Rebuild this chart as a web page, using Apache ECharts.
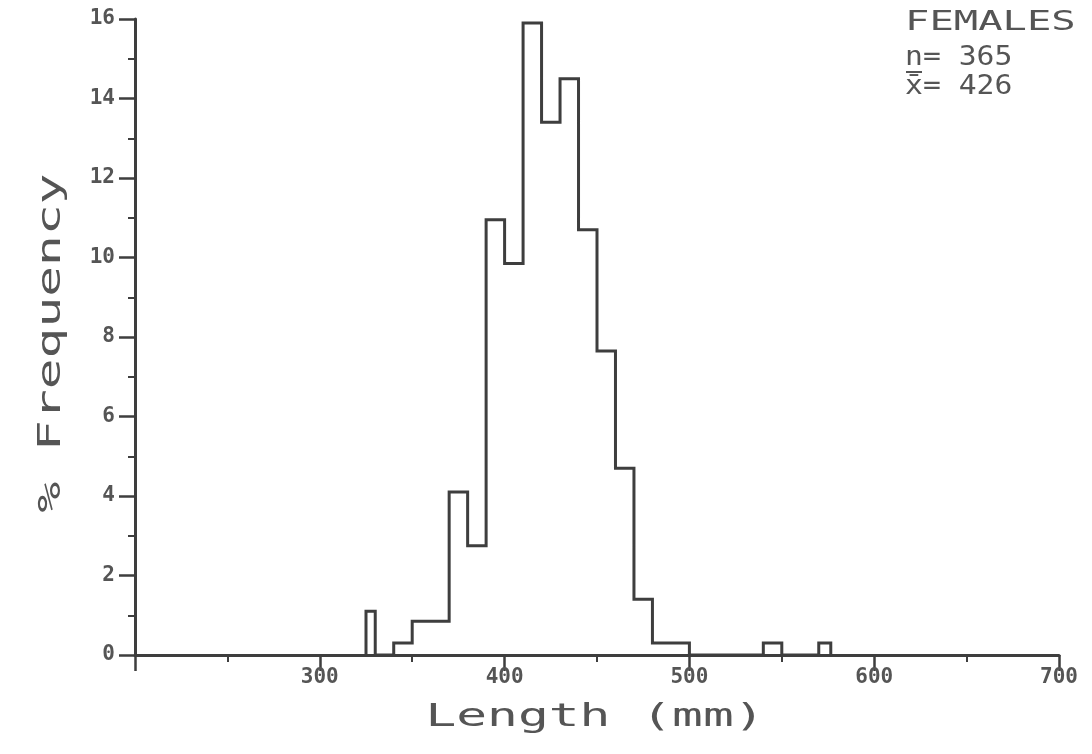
<!DOCTYPE html>
<html>
<head>
<meta charset="utf-8">
<script src="https://cdn.jsdelivr.net/npm/echarts@6/dist/echarts.min.js"></script>
<style>html,body{margin:0;padding:0;background:#fff}#c{width:1092px;height:754px}</style>
</head>
<body>
<div id="c"></div>
<script>
// Histogram bins (mm) and % frequency
const binLo  = [325, 340, 350, 360, 370, 380, 390, 400, 410, 420, 430, 440, 450, 460, 470, 480, 490, 540, 570];
const binHi  = [330, 350, 360, 370, 380, 390, 400, 410, 420, 430, 440, 450, 460, 470, 480, 490, 500, 550, 576.5];
const freq   = [1.1, 0.3, 0.85, 0.85, 4.1, 2.75, 10.95, 9.85, 15.9, 13.4, 14.5, 10.7, 7.65, 4.7, 1.4, 0.3, 0.3, 0.3, 0.3];
const xRange = [200, 700];
const yRange = [0, 16];
const xTitle = 'Length (mm)';
const yTitle = '% Frequency';
const infoLines = ['FEMALES', 'n= 365', 'x\u0304= 426'];

// Build the histogram outline from the bins
const outline = [];
let prevHi = null;
for (let i = 0; i < freq.length; i++) {
  const lo = binLo[i], hi = binHi[i], v = freq[i];
  if (prevHi === null) outline.push([lo, 0]);
  else if (lo !== prevHi) { outline.push([prevHi, 0]); outline.push([lo, 0]); }
  outline.push([lo, v]);
  outline.push([hi, v]);
  prevHi = hi;
}
outline.push([prevHi, 0]);

const INK = '#3e3e3e';
const TXT = '#555555';
const MONO = '"DejaVu Sans Mono", "Liberation Mono", monospace';

const chart = echarts.init(document.getElementById('c'), null, {renderer: 'canvas'});
chart.setOption({
  animation: false,
  backgroundColor: '#ffffff',
  grid: {left: 135, right: 33, top: 19, bottom: 99, containLabel: false},
  xAxis: {
    type: 'value', min: xRange[0], max: xRange[1], interval: 100,
    axisLine: {show: true, lineStyle: {color: INK, width: 3}},
    axisTick: {show: true, inside: false, length: 16, lineStyle: {color: INK, width: 2.5}},
    minorTick: {show: true, splitNumber: 2, length: 7, lineStyle: {color: INK, width: 2}},
    splitLine: {show: false}, minorSplitLine: {show: false},
    axisLabel: {
      margin: 12, color: TXT, fontFamily: MONO, fontSize: 21, fontWeight: 'bold',
      formatter: v => (v === xRange[0] ? '' : String(v))
    }
  },
  yAxis: {
    type: 'value', min: yRange[0], max: yRange[1], interval: 2,
    axisLine: {show: true, lineStyle: {color: INK, width: 3}},
    axisTick: {show: true, inside: false, length: 16, lineStyle: {color: INK, width: 2.5}},
    minorTick: {show: true, splitNumber: 2, length: 7, lineStyle: {color: INK, width: 2}},
    splitLine: {show: false}, minorSplitLine: {show: false},
    axisLabel: {margin: 20, color: TXT, fontFamily: MONO, fontSize: 21, fontWeight: 'bold'}
  },
  series: [{
    type: 'line', data: outline, symbol: 'none', smooth: false,
    lineStyle: {color: INK, width: 3, join: 'miter'}, z: 5, clip: false
  }],
  graphic: [
    {type: 'text', x: 595, y: 718, scaleX: 1.6, style: {text: xTitle, font: '32px ' + MONO, fill: TXT, align: 'center', verticalAlign: 'middle'}},
    {type: 'text', x: 52, y: 343, rotation: Math.PI / 2, scaleX: 1.6, style: {text: yTitle, font: '32px ' + MONO, fill: TXT, align: 'center', verticalAlign: 'middle'}},
    {type: 'text', x: 905, y: 23, scaleX: 1.5, style: {text: infoLines[0], font: '27px ' + MONO, fill: TXT, align: 'left', verticalAlign: 'middle'}},
    {type: 'text', x: 905, y: 58, scaleX: 1.1, style: {text: infoLines[1], font: '27px ' + MONO, fill: TXT, align: 'left', verticalAlign: 'middle'}},
    {type: 'line', shape: {x1: 906, y1: 72, x2: 922, y2: 72}, style: {stroke: TXT, lineWidth: 2}},
    {type: 'text', x: 905, y: 87, scaleX: 1.1, style: {text: infoLines[2], font: '27px ' + MONO, fill: TXT, align: 'left', verticalAlign: 'middle'}}
  ]
});
</script>
</body>
</html>
